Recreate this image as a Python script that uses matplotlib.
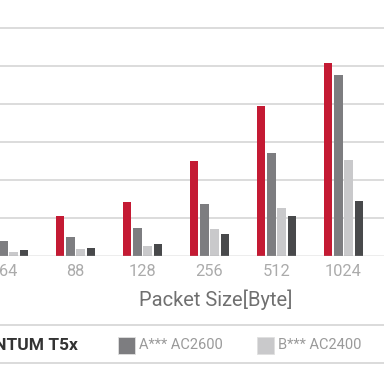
import numpy as np
import matplotlib.pyplot as plt
from matplotlib.patches import Rectangle
from matplotlib.lines import Line2D

plt.rcParams['font.family'] = ['Roboto', 'DejaVu Sans']

packet_sizes = ['64', '88', '128', '256', '512', '1024']
series_names = ['QUANTUM T5x', 'A*** AC2600', 'B*** AC2400', 'C*** AC1900']
quantum = [80, 105, 142, 250, 395, 508]
a_ac2600 = [39, 50, 74, 137, 271, 476]
b_ac2400 = [10, 18, 26, 71, 126, 253]
c_other = [16, 21, 32, 58, 105, 145]
colors = ['#c41a33', '#7d7d80', '#c9c9cb', '#48494b']

W = H = 384
fig = plt.figure(figsize=(3.84, 3.84), dpi=100)
ax = fig.add_axes([0, 128 / H, 1, 256 / H])

x = np.arange(len(packet_sizes))
step = 0.154
width = 0.127
for k, vals in enumerate([quantum, a_ac2600, b_ac2400, c_other]):
    ax.bar(x + (k - 1.5) * step, vals, width, color=colors[k], zorder=3,
           label=series_names[k])

ax.set_xlim(-8.5 / 67, (W - 8.5) / 67)
ax.set_ylim(0, 256 / 38 * 100)
for g in range(100, 700, 100):
    ax.axhline(g, color='#d6d6d6', lw=1.2, zorder=1)
ax.axhline(0, color='#a8a8a8', lw=1.0, zorder=4)
for s in ax.spines.values():
    s.set_visible(False)
ax.set_yticks([])
ax.set_xticks(x)
ax.set_xticklabels(packet_sizes)
ax.tick_params(axis='x', length=0, pad=6, labelsize=11.8, labelcolor='#ababab')

fig.text(216 / W, 1 - 300 / H, 'Packet Size[Byte]', ha='center', va='center',
         fontsize=14.5, color='#707070')

# legend band
for yy in (325, 363):
    fig.add_artist(Line2D([0, 1], [1 - yy / H, 1 - yy / H], color='#d4d4d4', lw=1.2))
ly = 1 - 345 / H
fig.text(78 / W, ly, series_names[0], ha='right', va='center', fontsize=12.5,
         fontweight='bold', color='#333333')
for k, (sx, tx) in enumerate([(118, 139), (257, 278)], start=1):
    fig.add_artist(Rectangle((sx / W, 1 - 354 / H), 17 / W, 17 / H, facecolor=colors[k],
                             edgecolor='#e0e0e0', lw=0.6, transform=fig.transFigure))
    fig.text(tx / W, ly, series_names[k], ha='left', va='center', fontsize=10.5,
             color='#9a9a9a')

fig.savefig('out.png', dpi=100)
